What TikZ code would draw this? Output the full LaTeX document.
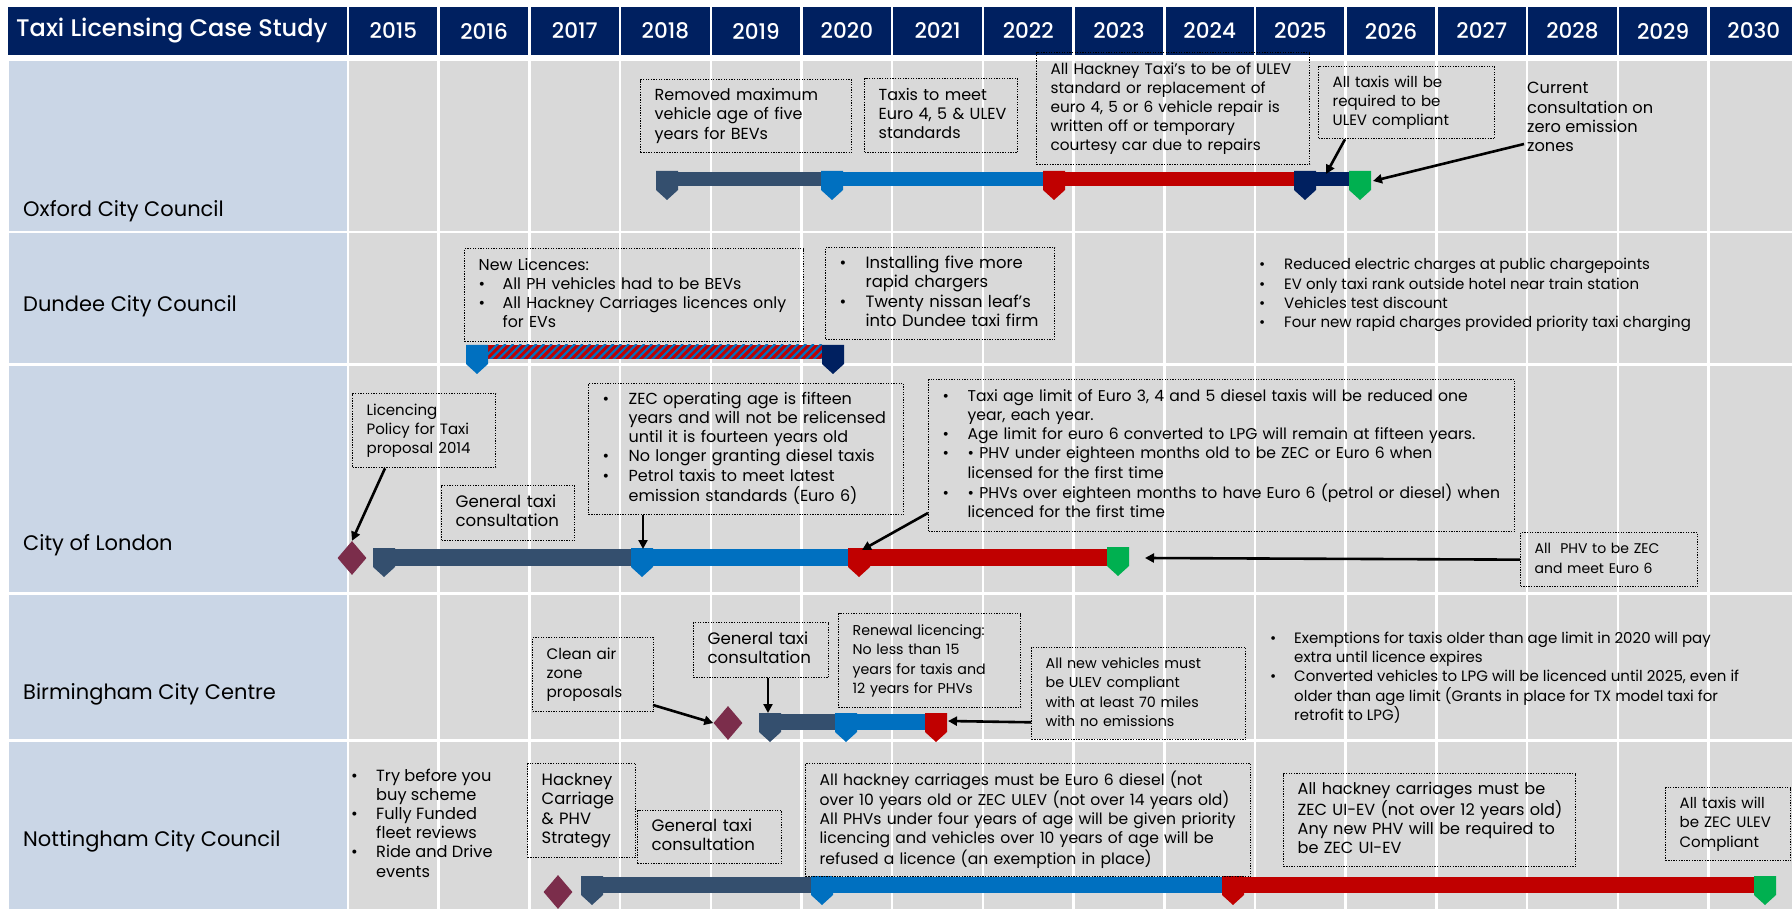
\documentclass[tikz,border=0pt]{standalone}
\usepackage{fontspec}
\setmainfont{Poppins}
\newfontfamily\hdrfont{Poppins Medium}
\usetikzlibrary{arrows.meta,calc,shapes.geometric}
\definecolor{hdr}{HTML}{002060}
\definecolor{lab}{HTML}{CAD6E6}
\definecolor{cell}{HTML}{D9D9D9}
\definecolor{slate}{HTML}{344F6E}
\definecolor{blu}{HTML}{0070C0}
\definecolor{redc}{HTML}{C00000}
\definecolor{navy}{HTML}{002060}
\definecolor{grn}{HTML}{00B050}
\definecolor{dia}{HTML}{7B2D4B}
\tikzset{
 fs/.style={font=\fontsize{#1}{19.2}\selectfont},
 callout/.style={draw=black, line width=1.3pt, dash pattern=on 1.3pt off 1.3pt, anchor=north west, inner xsep=14pt, inner ysep=0pt, align=left, fs=15},
 plain/.style={anchor=base west, inner sep=0pt, align=left, fs=15},
 lbl/.style={anchor=west, inner sep=0pt, font=\fontsize{21}{25}\selectfont},
 hdrtxt/.style={text=white, inner sep=0pt, font=\hdrfont\fontsize{21.5}{25}\selectfont},
 arr/.style={line width=2.6pt, -{Triangle[length=9pt,width=9pt]}},
 dmd/.style={diamond, fill=dia, minimum width=29pt, minimum height=34pt, inner sep=0pt},
}
\newcommand\plist[1]{\begin{tabular}[t]{@{}l@{}}#1\end{tabular}}
\newcommand\blist[2]{\begin{tabular}[t]{@{}p{#1pt}@{}l@{}}#2\end{tabular}}
\newcommand\callout[7]{\node[callout, fs=#7, text width=#4pt, minimum height=#5pt] (#1) at (#2,#3) {#6};}
\newcommand\mk[4]{\fill[#4] (#2,#3) -- ++(22,0) -- ++(0,19) -- ++(-11,10) -- ++(-11,-10) -- cycle;
  \coordinate (#1) at ({#2+11},#3);}
\begin{document}
\begin{tikzpicture}[x=1pt,y=-1pt]
\useasboundingbox (0,0) rectangle (1792,909);
\fill[white] (0,0) rectangle (1792,909);
% header
\fill[hdr] (8,7) rectangle (346.75,55);
\foreach \i in {0,...,15} \fill[hdr] ({348+90.7*\i+1.25},7) rectangle ({348+90.7*(\i+1)-1.25},55);
\node[hdrtxt, anchor=west, font=\hdrfont\fontsize{24}{28}\selectfont] (title) at (16,31) {Taxi Licensing Case Study};
\foreach \yr [count=\i from 0] in {2015,...,2030} \node[hdrtxt] (y\yr) at ({348+90.7*\i+45.35},31) {\yr};
% rows
\foreach \t/\b in {61/231,233.5/363,366/592,595/739,742/909} {
  \fill[lab] (9,\t) rectangle (346.75,\b);
  \foreach \i in {0,...,15} \fill[cell] ({348+90.7*\i+1.25},\t) rectangle ({348+90.7*(\i+1)-1.25},\b);
}
\node[lbl] (l1) at (23,211) {Oxford City Council};
\node[lbl] (l2) at (23,306) {Dundee City Council};
\node[lbl] (l3) at (23,545) {City of London};
\node[lbl] (l4) at (23,694) {Birmingham City Centre};
\node[lbl] (l5) at (23,841) {Nottingham City Council};

% ---------- Oxford ----------
\fill[slate] (666,172) rectangle (821,186.5);
\fill[blu] (821,172) rectangle (1043,186.5);
\fill[redc] (1043,172) rectangle (1294,186.5);
\fill[navy] (1294,172) rectangle (1349,186.5);
\mk{oxm1}{656}{171}{slate}
\mk{oxm2}{821}{171}{blu}
\mk{oxm3}{1043}{171}{redc}
\mk{oxm4}{1294}{171}{navy}
\mk{oxm5}{1349}{171}{grn}
\callout{ox1}{640}{79}{183}{73}{\plist{Removed maximum\\vehicle age of five\\years for BEVs}}{16}
\callout{ox2}{864}{78}{125}{74}{\plist{Taxis to meet\\Euro 4, 5 \& ULEV\\standards}}{16}
\callout{ox3}{1036}{52}{245}{112}{\plist{All Hackney Taxi’s to be of ULEV\\standard or replacement of\\euro 4, 5 or 6 vehicle repair is\\written off or temporary\\courtesy car due to repairs}}{15.3}
\callout{ox4}{1318}{66}{148}{72}{\plist{All taxis will be\\required to be\\ULEV compliant}}{15}
\node[plain, fs=16.2] (ox5) at (1527,94) {\plist{Current\\consultation on\\zero emission\\zones}};
\coordinate (oxa1) at (1326,174);
\coordinate (oxa2s) at (1524,144);
\coordinate (oxa2e) at (1373,181);
\draw[arr] ($(ox4.south west)+(27,0)$) -- (oxa1);
\draw[arr] (oxa2s) -- (oxa2e);

% ---------- Dundee ----------
\begin{scope}
\clip (488,345) rectangle (822,359);
\fill[redc] (488,345) rectangle (822,359);
\foreach \i in {0,...,46} \draw[blu, line width=2.2pt] ({480+\i*7.7},362) -- ++(18,-18);
\end{scope}
\mk{dum1}{466}{345}{blu}
\mk{dum2}{822}{345}{navy}
\callout{du1}{464}{248}{311}{93}{\blist{24}{\multicolumn{2}{@{}l@{}}{New Licences:}\\ \textbullet & All PH vehicles had to be BEVs\\ \textbullet & All Hackney Carriages licences only\\ & for EVs}}{15.8}
\callout{du2}{825}{247}{201}{92}{\blist{26}{\textbullet & Installing five more\\ & rapid chargers\\ \textbullet & Twenty nissan leaf’s\\ & into Dundee taxi firm}}{16.4}
\node[plain] (du3) at (1259,270) {\blist{25}{\textbullet & Reduced electric charges at public chargepoints\\ \textbullet & EV only taxi rank outside hotel near train station\\ \textbullet & Vehicles test discount\\ \textbullet & Four new rapid charges provided priority taxi charging}};

% ---------- London ----------
\fill[slate] (383,549) rectangle (631,566);
\fill[blu] (631,549) rectangle (848,566);
\fill[redc] (848,549) rectangle (1107,566);
\mk{lom1}{373}{548}{slate}
\mk{lom2}{631}{548}{blu}
\mk{lom3}{848}{548}{redc}
\mk{lom4}{1107}{547}{grn}
\node[dmd] (lodia) at (352,558) {};
\callout{lo1}{352}{393}{115}{74}{\plist{Licencing\\Policy for Taxi\\proposal 2014}}{15}
\callout{lo2}{441}{485}{105}{55}{\plist{General taxi\\consultation}}{16.6}
\callout{lo3}{588}{383}{287}{131}{\blist{26}{\textbullet & ZEC operating age is fifteen\\ & years and will not be relicensed\\ & until it is fourteen years old\\ \textbullet & No longer granting diesel taxis\\ \textbullet & Petrol taxis to meet latest\\ & emission standards (Euro 6)}}{16}
\callout{lo4}{928}{379}{558}{152}{\blist{25}{\textbullet & Taxi age limit of Euro 3, 4 and 5 diesel taxis will be reduced one\\ & year, each year.\\ \textbullet & Age limit for euro 6 converted to LPG will remain at fifteen years.\\ \textbullet & \textbullet\ PHV under eighteen months old to be ZEC or Euro 6 when\\ & licensed for the first time\\ \textbullet & \textbullet\ PHVs over eighteen months to have Euro 6 (petrol or diesel) when\\ & licenced for the first time}}{15.6}
\callout{lo5}{1520}{532}{149}{54}{\plist{All\ \ PHV to be ZEC\\and meet Euro 6}}{14}
\coordinate (loa2) at (643,549);
\coordinate (loa3s) at (928,513);
\coordinate (loa3e) at (862,550);
\coordinate (loa4) at (1145,558);
\draw[arr] ($(lo1.south west)+(33,0)$) -- (lodia.north);
\draw[arr] ($(lo3.south west)+(55,0)$) -- (loa2);
\draw[arr] (loa3s) -- (loa3e);
\draw[arr] (lo5.west) -- (loa4);

% ---------- Birmingham ----------
\fill[slate] (769,714) rectangle (835,730);
\fill[blu] (835,714) rectangle (925,730);
\mk{bim1}{759}{713}{slate}
\mk{bim2}{835}{713}{blu}
\mk{bim3}{925}{713}{redc}
\node[dmd] (bidia) at (728,723) {};
\callout{bi1}{532}{637}{93}{74}{\plist{Clean air\\zone\\proposals}}{15.2}
\callout{bi2}{693}{622}{107}{55}{\plist{General taxi\\consultation}}{16.6}
\callout{bi3}{838}{613}{154}{94}{\plist{Renewal licencing:\\No less than 15\\years for taxis and\\12 years for PHVs}}{14.2}
\callout{bi4}{1031}{647}{186}{92}{\plist{All new vehicles must\\be ULEV compliant\\with at least 70 miles\\with no emissions}}{14.3}
\node[plain] (bi5) at (1270,643) {\blist{24}{\textbullet & Exemptions for taxis older than age limit in 2020 will pay\\ & extra until licence expires\\ \textbullet & Converted vehicles to LPG will be licenced until 2025, even if\\ & older than age limit (Grants in place for TX model taxi for\\ & retrofit to LPG)}};
\coordinate (bia1s) at (653,705);
\coordinate (bia2) at (768,713);
\coordinate (bia3) at (948,721);
\draw[arr] (bia1s) -- (bidia.west);
\draw[arr] ($(bi2.south west)+(75,0)$) -- (bia2);
\draw[arr] ($(bi4.south west)+(0,-18)$) -- (bia3);

% ---------- Nottingham ----------
\fill[slate] (591,877) rectangle (811,893);
\fill[blu] (811,877) rectangle (1222,893);
\fill[redc] (1222,877) rectangle (1754,893);
\mk{nom1}{581}{876}{slate}
\mk{nom2}{811}{876}{blu}
\mk{nom3}{1222}{876}{redc}
\mk{nom4}{1754}{876}{grn}
\node[dmd] (nodia) at (558,892) {};
\node[plain, fs=16.2] (no1) at (351,781) {\blist{25}{\textbullet & Try before you\\ & buy scheme\\ \textbullet & Fully Funded\\ & fleet reviews\\ \textbullet & Ride and Drive\\ & events}};
\callout{no2}{527}{763}{80}{94}{\plist{Hackney\\Carriage\\\& PHV\\Strategy}}{16.4}
\callout{no3}{637}{810}{116}{53}{\plist{General taxi\\consultation}}{16.6}
\callout{no4}{805}{763}{417}{113}{\plist{All hackney carriages must be Euro 6 diesel (not\\over 10 years old or ZEC ULEV (not over 14 years old)\\All PHVs under four years of age will be given priority\\licencing and vehicles over 10 years of age will be\\refused a licence (an exemption in place)}}{15.6}
\callout{no5}{1283}{773}{264}{93}{\plist{All hackney carriages must be\\ZEC UI-EV (not over 12 years old)\\Any new PHV will be required to\\be ZEC UI-EV}}{16.1}
\callout{no6}{1665}{787}{97}{73}{\plist{All taxis will\\be ZEC ULEV\\Compliant}}{15}
\end{tikzpicture}
\end{document}
